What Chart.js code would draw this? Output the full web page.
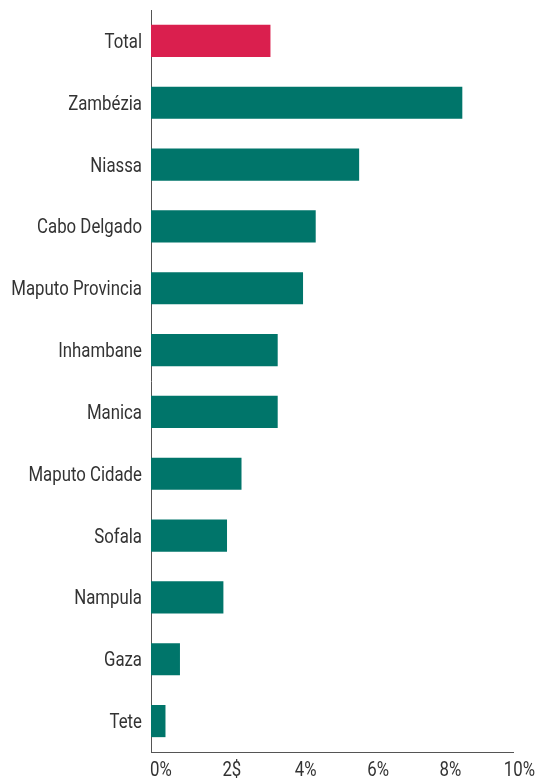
<!DOCTYPE html>
<html>
<head>
<meta charset="utf-8">
<script src="https://cdn.jsdelivr.net/npm/chart.js@4"></script>
<style>
  html, body { margin: 0; padding: 0; background: #fff; }
  #wrap { width: 535px; height: 778px; }
</style>
</head>
<body>
<div id="wrap"><canvas id="provinceChart"></canvas></div>
<script>
// Share by province, with the national total first
const provinces = ['Total', 'Zambézia', 'Niassa', 'Cabo Delgado', 'Maputo Provincia', 'Inhambane',
    'Manica', 'Maputo Cidade', 'Sofala', 'Nampula', 'Gaza', 'Tete'];
const shares = [3.3, 8.6, 5.75, 4.55, 4.2, 3.5, 3.5, 2.5, 2.1, 2.0, 0.8, 0.4];
const xTickLabels = ['0%', '2$', '4%', '6%', '8%', '10%'];

// No condensed face is installed, so labels are drawn in Roboto squeezed sideways
const labelFont = "Roboto, 'Liberation Sans', sans-serif";
const labelSize = 20;
const squeeze = 0.84;

const narrowLabels = {
    id: 'narrowLabels',
    afterDraw(chart) {
        const { ctx, scales: { x, y } } = chart;
        ctx.save();
        ctx.font = `${labelSize}px ${labelFont}`;
        ctx.fillStyle = '#333';
        ctx.textBaseline = 'alphabetic';

        // category names, right aligned against the axis line
        ctx.textAlign = 'right';
        y.ticks.forEach((tick, i) => {
            ctx.save();
            ctx.translate(y.right - 9, y.getPixelForTick(i) + 7);
            ctx.scale(squeeze, 1);
            ctx.fillText(chart.data.labels[i], 0, 0);
            ctx.restore();
        });

        // percent ticks start at their tick; the last one is kept inside the canvas
        ctx.textAlign = 'left';
        x.ticks.forEach((tick, i) => {
            const label = xTickLabels[i];
            const w = ctx.measureText(label).width * squeeze;
            const px = Math.min(x.getPixelForTick(i) - 1, chart.width - w);
            ctx.save();
            ctx.translate(px, x.top + 24);
            ctx.scale(squeeze, 1);
            ctx.fillText(label, 0, 0);
            ctx.restore();
        });
        ctx.restore();
    }
};

const ctx = document.getElementById('provinceChart').getContext('2d');
new Chart(ctx, {
    type: 'bar',
    data: {
        labels: provinces,
        datasets: [{
            data: shares,
            backgroundColor: provinces.map(p => p === 'Total' ? '#da1f4e' : '#00756a'),
            borderWidth: 0,
            barPercentage: 0.52,
            categoryPercentage: 1
        }]
    },
    options: {
        indexAxis: 'y',
        responsive: true,
        maintainAspectRatio: false,
        animation: false,
        layout: { padding: { top: 10, right: 22, bottom: 0, left: 0 } },
        plugins: {
            legend: { display: false },
            tooltip: { enabled: false }
        },
        scales: {
            x: {
                min: 0,
                max: 10,
                ticks: { display: false, stepSize: 2 },
                grid: { display: false, drawTicks: false },
                border: { display: true, color: '#555', width: 1 },
                afterFit: s => { s.height = 26; }
            },
            y: {
                ticks: { display: false },
                grid: { display: false, drawTicks: false },
                border: { display: true, color: '#555', width: 1 },
                afterFit: s => { s.width = 151; }
            }
        }
    },
    plugins: [narrowLabels]
});
</script>
</body>
</html>
